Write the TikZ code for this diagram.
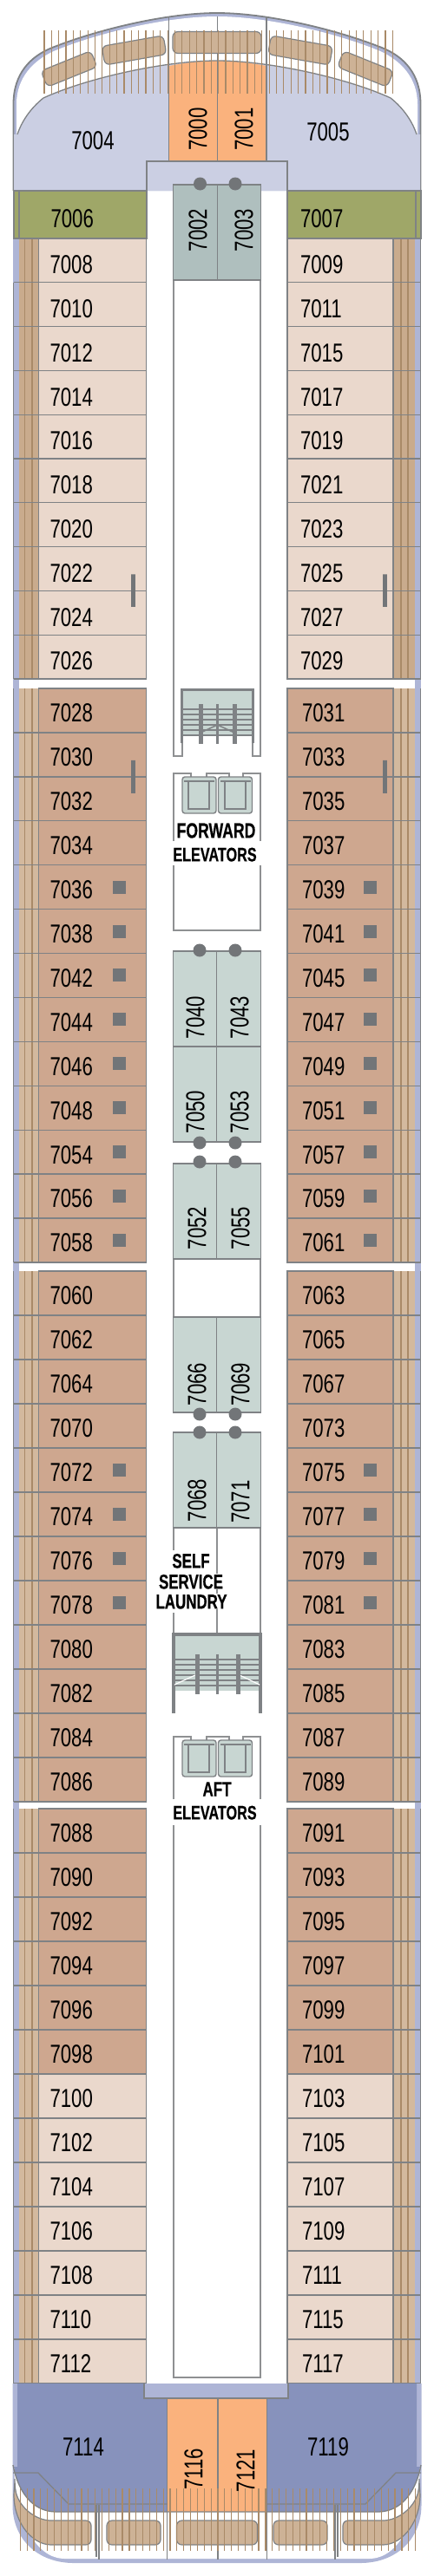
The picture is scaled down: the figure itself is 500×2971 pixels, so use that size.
\documentclass[tikz,border=0pt]{standalone}
\usepackage{fontspec}
\setmainfont{Liberation Sans}[FakeStretch=0.74]
\newfontfamily\placefont{Liberation Sans Bold}[FakeStretch=0.72,FakeBold=0.5]
\usepackage{tikz}
\usetikzlibrary{positioning,calc}
\definecolor{deckWall}{HTML}{7F8285}
\definecolor{deckCore}{HTML}{8E9092}
\definecolor{deckHull}{HTML}{AEB5D6}
\definecolor{deckPale}{HTML}{EAD8CC}
\definecolor{deckClay}{HTML}{CEA78F}
\definecolor{deckOlive}{HTML}{9FA768}
\definecolor{deckOrange}{HTML}{FAB27D}
\definecolor{deckMist}{HTML}{CBCFE3}
\definecolor{deckIndigo}{HTML}{8792BC}
\definecolor{deckSage}{HTML}{C8D6D2}
\definecolor{deckSlate}{HTML}{AFBFBE}
\definecolor{deckTan}{HTML}{D3B99E}
\definecolor{deckTanDark}{HTML}{C9AB8D}
\definecolor{deckRail}{HTML}{A98A68}
\colorlet{deckDot}{deckWall!90!black}

\begin{document}
\begin{tikzpicture}[
  x=1pt, y=-1pt,
  wall/.style={draw=deckWall, line width=1.3pt},
  corewall/.style={draw=deckCore, line width=1.2pt},
  rail/.style={draw=deckRail, line width=1.2pt},
  roomno/.style={font=\fontsize{30}{30}\selectfont, inner sep=0pt, outer sep=0pt},
  cabin/.style n args={3}{
    rectangle, draw=deckWall, line width=1.3pt, fill=#1, roomno,
    inner xsep=#2, inner ysep=0pt, text width={#3-2*#2}, align=left
  },
  suite/.style={
    rectangle, draw=deckWall, line width=1.2pt, fill=#1,
    minimum width=50.5pt, minimum height=110pt, inner sep=0pt, outer sep=0pt
  },
  lounger/.style={
    rectangle, draw=deckWall, line width=1.2pt, fill=deckTan!85!deckRail,
    rounded corners=6pt, inner sep=0pt
  },
  porthole/.style={circle, fill=deckDot, minimum size=15pt, inner sep=0pt},
  balconybox/.style={rectangle, fill=deckDot, minimum size=15pt, inner sep=0pt},
  liftcar/.style={
    rectangle, draw=deckWall, line width=1.4pt, fill=deckSage,
    minimum width=39pt, minimum height=42pt, rounded corners=3pt, inner sep=0pt
  },
  place/.style={
    font=\fontsize{#1}{#1}\selectfont\placefont, fill=white, inner sep=0pt, text height=17pt
  },
  place/.default=23.5
]
  \useasboundingbox (0,0) rectangle (500,2971);

  % Bow hull and deck
  \fill[deckHull] (15.5,220) -- (15.5,120) .. controls (15.5,85) and (35,65) .. (60,55)
    .. controls (110,35) and (190,15) .. (250,15)
    .. controls (310,15) and (390,35) .. (440,55)
    .. controls (465,65) and (484.5,85) .. (484.5,120) -- (484.5,220) -- cycle;
  \fill[white] (19,160) -- (19,120) .. controls (19,90) and (38,70) .. (62,59)
    .. controls (110,39) and (190,19) .. (250,19)
    .. controls (310,19) and (390,39) .. (438,59)
    .. controls (462,70) and (481,90) .. (481,120) -- (481,160) -- cycle;
  \draw[wall, line width=1.8pt] (15.5,220) -- (15.5,120) .. controls (15.5,85) and (35,65) .. (60,55)
    .. controls (110,35) and (190,15) .. (250,15)
    .. controls (310,15) and (390,35) .. (440,55)
    .. controls (465,65) and (484.5,85) .. (484.5,120) -- (484.5,220);

  % Bow suites
  \fill[deckMist] (16,220) -- (16,155) -- (20,155) .. controls (25,140) and (35,125) .. (50,113)
    .. controls (100,90) and (190,70) .. (250,70)
    .. controls (310,70) and (400,90) .. (450,113)
    .. controls (465,125) and (475,140) .. (480,155) -- (484,155) -- (484,220) -- cycle;
  \fill[deckOrange] (195,76) .. controls (215,72) and (235,70) .. (250,70)
    .. controls (265,70) and (285,72) .. (307,76) -- (307,186) -- (195,186) -- cycle;
  \draw[wall] (20,155) .. controls (25,140) and (35,125) .. (50,113)
    .. controls (100,90) and (190,70) .. (250,70)
    .. controls (310,70) and (400,90) .. (450,113)
    .. controls (465,125) and (475,140) .. (480,155);
  \foreach \lx in {194.5,250.5,307}
    \draw[wall] (\lx,19) -- (\lx,186);
  \node[lounger, minimum width=62pt, minimum height=20pt, rotate=22] (bowpadA) at (79.5,79.5) {};
  \node[lounger, minimum width=72pt, minimum height=22pt, rotate=10] (bowpadB) at (154.5,58) {};
  \node[lounger, minimum width=102pt, minimum height=25pt] (bowpadC) at (250,49) {};
  \node[lounger, minimum width=72pt, minimum height=22pt, rotate=-10] (bowpadD) at (346,58) {};
  \node[lounger, minimum width=62pt, minimum height=20pt, rotate=-22] (bowpadE) at (421,79.5) {};
  \foreach \k in {0,...,48}
    \draw[rail] ({51+8.36*\k},35) -- ++(0,73);

  % Side balconies
  \fill[deckHull] (15,275) rectangle (22,2749);
  \fill[deckHull] (478,275) rectangle (485,2749);
  \foreach \ya/\yb/\tone in {275/783/deckTanDark,794/1456/deckTan,1466/2078/deckTan,2086/2749/deckTan} {
    \fill[\tone] (22,\ya) rectangle (44.5,\yb);
    \fill[\tone] (453,\ya) rectangle (478,\yb);
    \foreach \lx in {28.5,37,462,470}
      \draw[rail] (\lx,\ya) -- (\lx,\yb);
  }
  \foreach \lx in {462,470}
    \draw[rail] (\lx,2749) -- (\lx,2769);
  \foreach \ya/\yb in {794/1456,1466/2078,2086/2749} {
    \draw[wall, line width=1.6pt] (15.5,\ya) -- (15.5,\yb);
    \draw[wall, line width=1.6pt] (484.5,\ya) -- (484.5,\yb);
  }
  \draw[wall, line width=1.6pt] (15.5,326) -- (15.5,783);
  \draw[wall, line width=1.6pt] (484.5,275) -- (484.5,783);

  % Forward corridor end
  \draw[wall] (169,220) -- (169,186) -- (331,186) -- (331,220);

  % Olive cabins
  \node[cabin={deckOlive}{42.5pt}{153pt}, minimum height=55pt, text height=30.5pt, anchor=north west] (c7006) at (16,220) {7006};
  \node[cabin={deckOlive}{15pt}{154pt}, minimum height=55pt, text height=30.5pt, anchor=north west] (c7007) at (331,220) {7007};
  \draw[wall] (22,220) -- (22,275);
  \draw[wall] (479,220) -- (479,275);

  % Cabin rows
  \foreach \rx/\ry/\rh/\rw/\pad/\rim/\tip/\tone/\off/\rooms in {
    106.5/275/50.8/124pt/13pt/south west/-29/deckPale/31/{7008,7010,7012,7014,7016,7018,7020,7022,7024,7026},
    106.5/794/50.92/124pt/13pt/south west/-29/deckClay/27/{7028,7030,7032,7034,7036,7038,7042,7044,7046,7048,7054,7056,7058},
    106.5/1466/51/124pt/13pt/south west/-29/deckClay/27/{7060,7062,7064,7070,7072,7074,7076,7078,7080,7082,7084,7086},
    106.5/2086/51/124pt/13pt/south west/-29/deckClay/26/{7088,7090,7092,7094,7096,7098},
    106.5/2392/51/124pt/13pt/south west/-29/deckPale/26/{7100,7102,7104,7106,7108,7110,7112},
    392/275/50.8/122pt/15pt/south east/32/deckPale/31/{7009,7011,7015,7017,7019,7021,7023,7025,7027,7029},
    392/794/50.92/122pt/17pt/south east/32/deckClay/27/{7031,7033,7035,7037,7039,7041,7045,7047,7049,7051,7057,7059,7061},
    392/1466/51/122pt/17pt/south east/32/deckClay/27/{7063,7065,7067,7073,7075,7077,7079,7081,7083,7085,7087,7089},
    392/2086/51/122pt/17pt/south east/32/deckClay/26/{7091,7093,7095,7097,7099,7101},
    392/2392/51/122pt/17pt/south east/32/deckPale/26/{7103,7105,7107,7109,7111,7115,7117}%
  } {
    \coordinate (cstart) at (\rx,\ry);
    \foreach \room [remember=\room as \prev (initially start)] in \rooms {
      \node[cabin={\tone}{\pad}{\rw}, minimum height=\rh pt, text height=\off pt, below=0pt of c\prev] (c\room) {\room};
      \draw[wall] (c\room.\rim) -- ++(\tip,0);
    }
  }
  \foreach \room in {7036,7038,7042,7044,7046,7048,7054,7056,7058,7072,7074,7076,7078}
    \node[balconybox] (m\room) at ([xshift=30.5pt]c\room.center) {};
  \foreach \room in {7039,7041,7045,7047,7049,7051,7057,7059,7061,7075,7077,7079,7081}
    \node[balconybox] (m\room) at ([xshift=34pt]c\room.center) {};
  \foreach \room in {7022,7030}
    \draw[draw=deckDot, line width=5pt] ([xshift=47pt]c\room.south) -- ++(0,-19) -- ++(0,38);
  \foreach \room in {7025,7033}
    \draw[draw=deckDot, line width=5pt] ([xshift=51pt]c\room.south) -- ++(0,-19) -- ++(0,38);

  % Central core walls
  \draw[corewall] (200,323) -- (200,872) -- (210,872) -- (210,857);
  \draw[corewall] (300,323) -- (300,872) -- (291,872) -- (291,857);
  \draw[corewall] (200,998) -- (200,1073) -- (300,1073) -- (300,998);
  \draw[corewall] (200,1452) -- (200,1519);
  \draw[corewall] (300,1452) -- (300,1519);
  \draw[corewall] (200,1762) -- (200,1788) (200,1860) -- (200,1885);
  \draw[corewall] (300,1762) -- (300,1885);
  \draw[corewall] (250,1762) -- (250,1885);
  \draw[corewall] (200,2105) -- (200,2742) -- (300,2742) -- (300,2105);

  % Suites along the core
  \foreach \room/\bx/\by/\tone in {
    7002/225/268/deckSlate, 7003/275.5/268/deckSlate,
    7040/225/1152/deckSage, 7043/275/1152/deckSage,
    7050/225/1262/deckSage, 7053/275/1262/deckSage,
    7052/225/1397/deckSage, 7055/275/1397/deckSage,
    7066/225/1574/deckSage, 7069/275/1574/deckSage,
    7068/225/1707/deckSage, 7071/275/1707/deckSage%
  }
    \node[suite=\tone] (s\room) at (\bx,\by) {};
  \foreach \px/\py in {230.5/212,271/212,230/1096,271/1096,230/1318,271/1318,230/1340,271/1340,230/1631,271/1631,230/1652,271/1652}
    \node[porthole] (p\px-\py) at (\px,\py) {};

  % Stairs
  \fill[deckSage] (209,795) rectangle (291,848);
  \draw[wall, line width=3pt] (209,857) -- (209,795) -- (291,795) -- (291,857);
  \foreach \ty in {818,824,...,848}
    \draw[wall, line width=2pt] (209,\ty) -- (291,\ty);
  \draw[wall, line width=5pt] (231,812) -- (231,858);
  \draw[wall, line width=5pt] (270,812) -- (270,858);
  \draw[wall, line width=2.5pt] (250.5,812) -- (250.5,858);
  \draw[wall, line width=1.5pt] (231,845) -- (250.5,836) -- (270,845);

  \fill[deckSage] (200,1885) rectangle (300,1950);
  \draw[wall, line width=3.5pt] (200,1976) -- (200,1885) -- (300,1885) -- (300,1976);
  \foreach \ty in {1914,1920,...,1947}
    \draw[wall, line width=2pt] (200,\ty) -- (300,\ty);
  \draw[white, line width=1.2pt] (201,1943) -- (227,1931) (274,1931) -- (299,1943);
  \draw[wall, line width=5pt] (227,1908) -- (227,1954);
  \draw[wall, line width=5pt] (274,1908) -- (274,1954);
  \draw[wall, line width=2.5pt] (250.5,1908) -- (250.5,1954);

  % Elevators
  \foreach \ey/\lift/\yb in {892/fwd/970,2003/aft/2075} {
    \draw[corewall] (200,\yb) -- (200,\ey) -- (220,\ey) -- ++(0,8);
    \draw[corewall] (238,\ey+8) -- (238,\ey) -- (264,\ey) -- ++(0,8);
    \draw[corewall] (300,\yb) -- (300,\ey) -- (280,\ey) -- ++(0,8);
    \node[liftcar] (\lift carA) at (229.5,\ey+25) {};
    \node[liftcar] (\lift carB) at (271,\ey+25) {};
    \draw[wall] (212,\ey+9) -- (247,\ey+9) (217,\ey+9) -- (217,\ey+41) -- (241,\ey+41) -- (241,\ey+9);
    \draw[wall] (254,\ey+9) -- (289,\ey+9) (259,\ey+9) -- (259,\ey+41) -- (283,\ey+41) -- (283,\ey+9);
  }

  % Public area labels
  \node[place=24.5] (forward) at (249,958) {FORWARD};
  \node[place=22.5] (forwardlifts) at (247.5,985) {ELEVATORS};
  \node[place] (self) at (220,1800) {SELF};
  \node[place] (service) at (220,1824) {SERVICE};
  \node[place] (laundry) at (220.5,1847) {LAUNDRY};
  \node[place] (aft) at (250,2063) {AFT};
  \node[place=22.5] (aftlifts) at (247.5,2090) {ELEVATORS};

  % Stern hull and deck
  \fill[deckHull] (14.5,2749) -- (14.5,2890) .. controls (15,2930) and (45,2956) .. (85,2956)
    -- (415,2956) .. controls (455,2956) and (485,2930) .. (485.5,2890) -- (485.5,2749) -- cycle;
  \fill[white] (16,2845) .. controls (18,2905) and (40,2951) .. (75,2951) -- (425,2951)
    .. controls (460,2951) and (482,2905) .. (484,2845) -- cycle;

  % Stern suites
  \fill[deckIndigo] (20,2749) -- (166,2749) -- (166,2766) -- (193,2766) -- (193,2897) -- (65,2897)
    .. controls (35,2897) and (20,2870) .. (16,2845) -- (20,2845) -- cycle;
  \fill[deckIndigo] (480,2749) -- (332,2749) -- (332,2766) -- (307,2766) -- (307,2897) -- (435,2897)
    .. controls (465,2897) and (480,2870) .. (484,2845) -- (480,2845) -- cycle;
  \fill[deckOrange] (193,2766) rectangle (307,2897);
  \draw[wall] (166,2749) -- (166,2766) -- (332,2766) -- (332,2749);
  \draw[wall] (15,2843) .. controls (20,2870) and (35,2897) .. (65,2897) -- (435,2897)
    .. controls (465,2897) and (480,2870) .. (485,2843);
  \draw[wall] (15,2852) -- (44,2852) -- (79,2888) -- (193,2888);
  \draw[wall] (485,2852) -- (456,2852) -- (421,2888) -- (307,2888);
  \foreach \lx in {192.5,251,307.5}
    \draw[wall] (\lx,2766) -- (\lx,2952);
  \foreach \lx/\ly in {111/2949,114/2952,386/2952,389/2949}
    \draw[wall] (\lx,2889) -- (\lx,\ly);

  % Stern loungers
  \draw[lounger] (17,2865) .. controls (20,2890) and (40,2907) .. (65,2907) -- (105,2907) -- (105,2935)
    -- (65,2935) .. controls (35,2935) and (13,2905) .. (17,2865) -- cycle;
  \draw[lounger] (483,2865) .. controls (480,2890) and (460,2907) .. (435,2907) -- (395,2907) -- (395,2935)
    -- (435,2935) .. controls (465,2935) and (487,2905) .. (483,2865) -- cycle;
  \node[lounger, minimum width=62pt, minimum height=28pt] (sternpadB) at (154,2921) {};
  \node[lounger, minimum width=93pt, minimum height=28pt] (sternpadC) at (250,2921) {};
  \node[lounger, minimum width=62pt, minimum height=28pt] (sternpadD) at (346,2921) {};
  \foreach \k in {0,...,58}
    \draw[rail] ({23.3+7.85*\k},2870) -- ++(0,72);

  % Room numbers on the suites
  \node[roomno] (l7004) at (107,162) {7004};
  \node[roomno] (l7005) at (378,152) {7005};
  \node[roomno] (l7114) at (96,2822) {7114};
  \node[roomno] (l7119) at (378,2822) {7119};
  \foreach \room/\tx/\ty in {
    7000/228/149, 7001/281/149, 7002/228/265.5, 7003/281/265.5,
    7040/225/1173.5, 7043/276/1173.5, 7050/225/1282.5, 7053/276/1282.5,
    7052/227/1416.5, 7055/277/1416.5, 7066/227/1596.5, 7069/277/1596.5,
    7068/227/1730.5, 7071/277/1732, 7116/223/2848, 7121/283/2849.5%
  }
    \node[roomno, rotate=90] (l\room) at (\tx,\ty) {\room};

\end{tikzpicture}
\end{document}
